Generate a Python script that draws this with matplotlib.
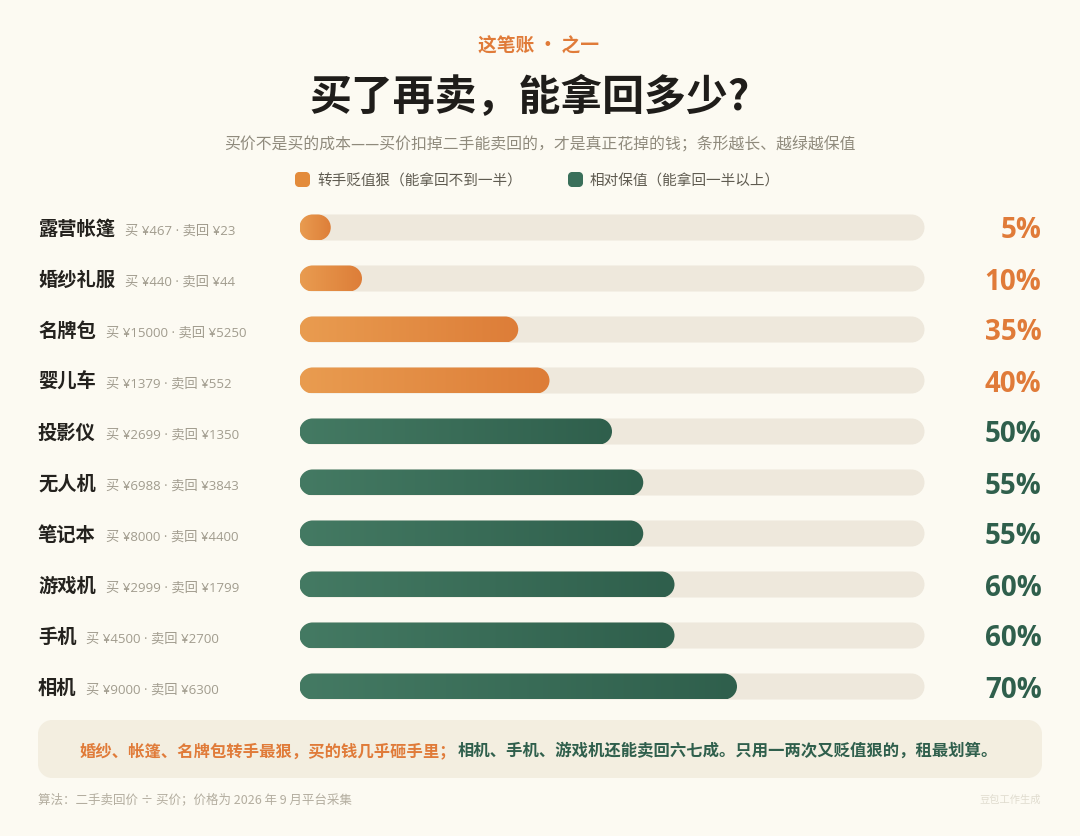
import numpy as np
import matplotlib
matplotlib.use('Agg')
import matplotlib.pyplot as plt
from matplotlib.colors import LinearSegmentedColormap
from matplotlib.patches import PathPatch
from matplotlib.path import Path
from matplotlib.transforms import blended_transform_factory

plt.rcParams['font.family'] = ['Noto Sans CJK SC', 'DejaVu Sans']

items = ['露营帐篷', '婚纱礼服', '名牌包', '婴儿车', '投影仪', '无人机', '笔记本', '游戏机', '手机', '相机']
pct = [5, 10, 35, 40, 50, 55, 55, 60, 60, 70]
buy = [467, 440, 15000, 1379, 2699, 6988, 8000, 2999, 4500, 9000]
sell = [23, 44, 5250, 552, 1350, 3843, 4400, 1799, 2700, 6300]

kicker = '这笔账 · 之一'
title = '买了再卖，能拿回多少?'
subtitle = '买价不是买的成本——买价扣掉二手能卖回的，才是真正花掉的钱；条形越长、越绿越保值'
legend_labels = ['转手贬值狠（能拿回不到一半）', '相对保值（能拿回一半以上）']
note_bad = '婚纱、帐篷、名牌包转手最狠，买的钱几乎砸手里；'
note_good = '相机、手机、游戏机还能卖回六七成。只用一两次又贬值狠的，租最划算。'
footer = '算法：二手卖回价 ÷ 买价；价格为 2026 年 9 月平台采集'
credit = '豆包工作生成'

BG = '#fcfaf2'
TRACK = '#eee8dc'
BAND = '#f3eee0'
ORANGE = '#e07b39'
GREEN = '#2f5f4c'
orange_cm = LinearSegmentedColormap.from_list('o', ['#e99c50', '#dd7d38'])
green_cm = LinearSegmentedColormap.from_list('g', ['#447a63', '#2f5f4c'])

W, H = 1080, 836
fig = plt.figure(figsize=(W / 100, H / 100), dpi=100, facecolor=BG)

# page axes in pixels, for the layout bits
page = fig.add_axes([0, 0, 1, 1], zorder=0)
page.set_xlim(0, W)
page.set_ylim(H, 0)
page.axis('off')

# bar axes: 0-100 % across the track
left, right, top, bottom = 299.5, 924.5, 202, 712
ax = fig.add_axes([left / W, 1 - bottom / H, (right - left) / W, (bottom - top) / H], zorder=1)
ax.set_xlim(0, 100)
ax.set_ylim(len(items) - 0.5, -0.5)
ax.axis('off')

px_x = (right - left) / 100.0
px_y = (bottom - top) / len(items)
bar_h = 26 / px_y


def rounded(x0, y0, x1, y1, rx, ry):
    # rounded box as a path, real circular corners (y0 < y1)
    k = 0.5523
    v = [(x0 + rx, y0), (x1 - rx, y0),
         (x1 - rx + k * rx, y0), (x1, y0 + ry - k * ry), (x1, y0 + ry),
         (x1, y1 - ry),
         (x1, y1 - ry + k * ry), (x1 - rx + k * rx, y1), (x1 - rx, y1),
         (x0 + rx, y1),
         (x0 + rx - k * rx, y1), (x0, y1 - ry + k * ry), (x0, y1 - ry),
         (x0, y0 + ry),
         (x0, y0 + ry - k * ry), (x0 + rx - k * rx, y0), (x0 + rx, y0),
         (x0 + rx, y0)]
    c = [Path.MOVETO, Path.LINETO,
         Path.CURVE4, Path.CURVE4, Path.CURVE4,
         Path.LINETO,
         Path.CURVE4, Path.CURVE4, Path.CURVE4,
         Path.LINETO,
         Path.CURVE4, Path.CURVE4, Path.CURVE4,
         Path.LINETO,
         Path.CURVE4, Path.CURVE4, Path.CURVE4,
         Path.CLOSEPOLY]
    return Path(v, c)


def pill(w, y, color):
    p = PathPatch(rounded(0, y - bar_h / 2, w, y + bar_h / 2, 13 / px_x, 13 / px_y), fc=color, ec='none', lw=0)
    ax.add_patch(p)
    return p


grad = np.linspace(0, 1, 256).reshape(1, -1)
trans = blended_transform_factory(page.transData, ax.transData)
rend = fig.canvas.get_renderer()

for i, name in enumerate(items):
    pill(100, i, TRACK)
    p = pill(pct[i], i, 'none')
    cm = orange_cm if pct[i] < 50 else green_cm
    im = ax.imshow(grad, extent=(0, pct[i], i + bar_h / 2, i - bar_h / 2), cmap=cm, aspect='auto', zorder=2)
    im.set_clip_path(p)
    t = page.text(38, i + 7 / px_y, name, transform=trans, fontsize=13.9, fontweight='bold', color='#24221e',
                  va='baseline', ha='left')
    end = t.get_window_extent(rend).x1
    page.text(end + 10, i + 7.5 / px_y, '买 ¥%d · 卖回 ¥%d' % (buy[i], sell[i]), transform=trans, fontsize=9.55,
              family=['Open Sans', 'Noto Sans CJK SC'], color='#a19c8e', va='baseline', ha='left')
    page.text(1041.5, i + 11 / px_y, '%d%%' % pct[i], transform=trans, fontsize=20, fontweight='bold',
              family=['Open Sans', 'DejaVu Sans'], color=ORANGE if pct[i] < 50 else GREEN, va='baseline', ha='right')

ax.set_xlim(0, 100)
ax.set_ylim(len(items) - 0.5, -0.5)

# header
page.text(539, 46, kicker, fontsize=13.5, fontweight='bold', color=ORANGE, ha='center', va='center')
page.text(530, 98, title, fontsize=30.2, fontweight=900, color='#1f1d1a', ha='center', va='center')
page.text(540, 145, subtitle, fontsize=11.4, color='#8f8a7c', ha='center', va='center')

# legend
for x0, lab, c, tx in [(295, legend_labels[0], '#e38b3b', 317), (568, legend_labels[1], '#3a6f5a', 590)]:
    page.add_patch(PathPatch(rounded(x0, 172, x0 + 15, 187, 4, 4), fc=c, ec='none'))
    page.text(tx, 181.5, lab, fontsize=10.55, color='#5f5b50', ha='left', va='center')

# takeaway band
page.add_patch(PathPatch(rounded(38, 720, 1042, 778, 14, 14), fc=BAND, ec='none'))
page.text(80, 750.5, note_bad, fontsize=11.75, fontweight='bold', color=ORANGE, ha='left', va='center')
page.text(458, 750.5, note_good, fontsize=11.75, fontweight='bold', color=GREEN, ha='left', va='center')

# footer
page.text(38, 800, footer, fontsize=9, color='#b3ad9f', ha='left', va='center')
page.text(1041, 800, credit, fontsize=7.4, color='#e0dccf', ha='right', va='center')

fig.savefig('out.png', dpi=100, facecolor=BG)
